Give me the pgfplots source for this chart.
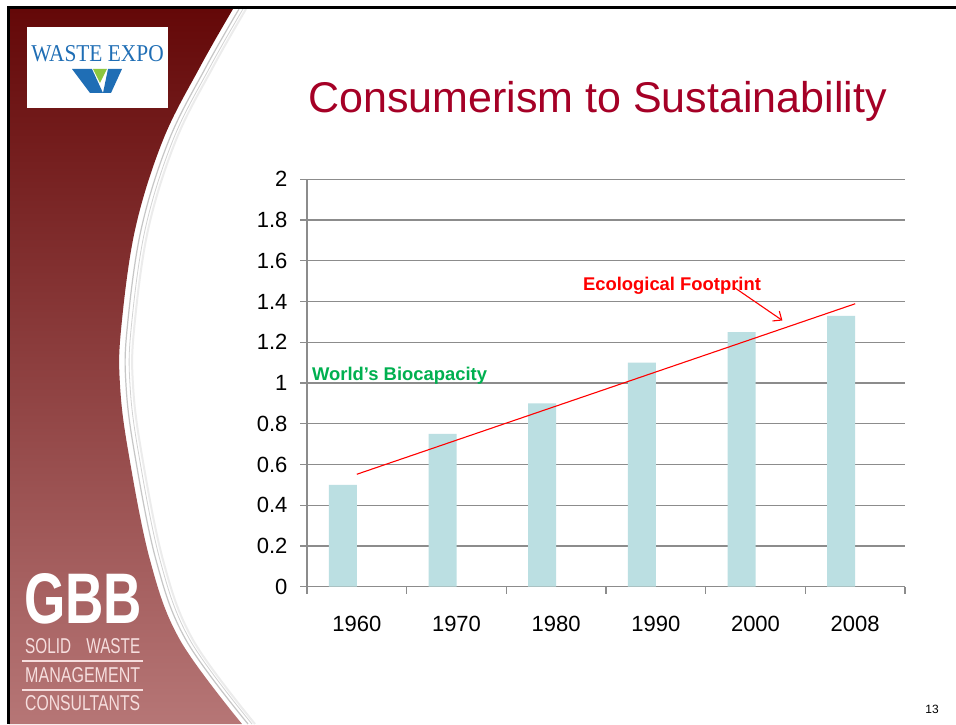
\documentclass[border=0pt]{standalone}
\usepackage{fontspec}
\setmainfont{Liberation Sans}
\newfontfamily\wasteserif{Liberation Serif}
\usepackage{graphicx}
\usepackage{pgfplots}
\pgfplotsset{compat=1.18}
\usetikzlibrary{arrows.meta}
\definecolor{panelTop}{RGB}{100,8,8}
\definecolor{panelBot}{RGB}{182,118,118}
\definecolor{titleRed}{RGB}{165,0,38}
\definecolor{barTeal}{RGB}{187,223,226}
\definecolor{gridGray}{RGB}{140,140,140}
\definecolor{bioGreen}{RGB}{0,176,80}
\definecolor{expoBlue}{RGB}{31,110,181}
\definecolor{expoGreen}{RGB}{140,198,63}
\definecolor{logoRose}{RGB}{246,222,222}
\begin{document}
\begin{tikzpicture}
\path[use as bounding box] (0,0) rectangle (956pt,724pt);
\fill[white] (0,0) rectangle (956pt,724pt);
\begin{scope}[x=1pt,y=-1pt,yshift=724pt]
  % left panel
  \shade[top color=panelTop, bottom color=panelBot]
    (9,9) -- plot[smooth, tension=0.6] coordinates {(233,9) (200,67) (163,140) (135,230) (121,330) (120,385) (128,450) (150,560) (180,640) (242,724)} -- (9,724) -- cycle;
  \draw[gray!45, line width=1.2pt, xshift=6pt] plot[smooth, tension=0.6] coordinates {(233,9) (200,67) (163,140) (135,230) (121,330) (120,385) (128,450) (150,560) (180,640) (242,724)};
  \draw[gray!35, line width=0.8pt, xshift=10pt] plot[smooth, tension=0.6] coordinates {(233,9) (200,67) (163,140) (135,230) (121,330) (120,385) (128,450) (150,560) (180,640) (242,724)};
  \draw[gray!15, line width=2pt, xshift=13pt] plot[smooth, tension=0.6] coordinates {(233,9) (200,67) (163,140) (135,230) (121,330) (120,385) (128,450) (150,560) (180,640) (242,724)};
  % frame lines
  \draw[black, line width=3pt] (7,8) -- (956,8);
  \draw[black, line width=3pt] (8,7) -- (8,724);
  % Waste Expo logo
  \fill[white] (27,27) rectangle (168,108);
  \node[anchor=base, text=expoBlue, inner sep=0pt] at (97.5,61.5) {\scalebox{0.93}[1.05]{\fontsize{23}{26}\wasteserif WASTE EXPO}};
  \fill[expoBlue] (72,69) -- (92,69) -- (103,93) -- (90,93) -- cycle;
  \fill[expoBlue] (108,69) -- (122,69) -- (111,93) -- (103,93) -- cycle;
  \fill[expoGreen] (93,69) -- (107,69) -- (100,83) -- cycle;
  % GBB logo
  \node[anchor=base west, inner sep=0pt, text=white] at (24,623) {\resizebox{118pt}{50pt}{\bfseries GBB}};
  \node[anchor=base west, inner sep=0pt, text=logoRose] at (25,653) {\resizebox{115pt}{15pt}{SOLID\quad WASTE}};
  \draw[logoRose, line width=2pt] (22,661) -- (143,661);
  \node[anchor=base west, inner sep=0pt, text=logoRose] at (25,682) {\resizebox{115pt}{15pt}{MANAGEMENT}};
  \draw[logoRose, line width=2pt] (22,690) -- (143,690);
  \node[anchor=base west, inner sep=0pt, text=logoRose] at (25,710) {\resizebox{115pt}{15pt}{CONSULTANTS}};
  % title
  \node[anchor=base, inner sep=0pt, text=titleRed] at (597.5,112.7) {\fontsize{43}{48}\selectfont Consumerism to Sustainability};
  % page number
  \node[anchor=base, inner sep=0pt] at (932,713) {\fontsize{12}{14}\selectfont 13};
\end{scope}
\begin{axis}[
  at={(307pt,137.3pt)}, anchor=south west,
  scale only axis, width=598pt, height=407.4pt,
  xmin=-0.5, xmax=5.5, ymin=0, ymax=2,
  axis lines=left,
  axis line style={-, draw=gridGray, line width=1.2pt},
  xtick={0,1,2,3,4,5},
  xticklabels={1960,1970,1980,1990,2000,2008},
  minor xtick={-0.5,0.5,1.5,2.5,3.5,4.5,5.5},
  ytick={0,0.2,0.4,0.6,0.8,1,1.2,1.4,1.6,1.8,2},
  tick align=outside,
  major x tick style={draw=none},
  minor x tick style={draw=gridGray, line width=1.2pt},
  minor tick length=7pt,
  major y tick style={draw=gridGray, line width=1.2pt},
  major tick length=7pt,
  ymajorgrids,
  major grid style={draw=gridGray, line width=1.1pt},
  tick label style={font=\fontsize{22}{26}\selectfont, text=black},
  xticklabel style={yshift=-19pt},
  yticklabel style={xshift=-9pt, /pgf/number format/fixed},
  /pgf/number format/assume math mode=true,
  clip=false,
]
\addplot[ybar, bar width=28pt, bar shift=-14pt, fill=barTeal, draw=none]
  coordinates {(0,0.50) (1,0.75) (2,0.90) (3,1.10) (4,1.25) (5,1.33)};
\addplot[red, line width=1.1pt, mark=none]
  coordinates {(0,0.552) (5,1.389)};
\draw[red, line width=1.1pt, -{Straight Barb[length=7pt,width=12pt]}] (axis cs:3.79,1.468) -- (axis cs:4.27,1.307);
\node[anchor=base, inner sep=0pt, text=red, font=\fontsize{18.4}{22}\selectfont\bfseries] at (axis cs:3.162,1.455) {Ecological Footprint};
\node[anchor=base west, inner sep=0pt, text=bioGreen, font=\fontsize{18.4}{22}\selectfont\bfseries] at (axis cs:-0.45,1.013) {World’s Biocapacity};
\end{axis}
\end{tikzpicture}
\end{document}
